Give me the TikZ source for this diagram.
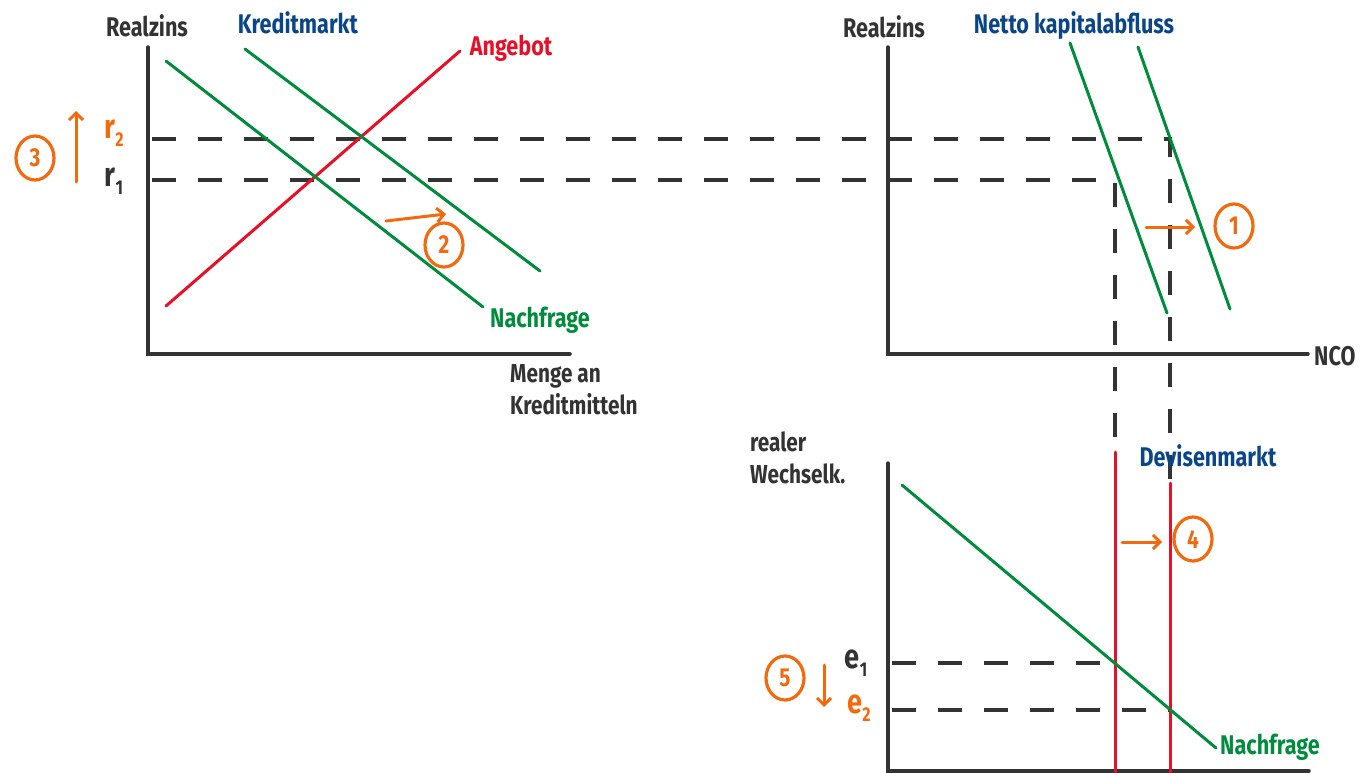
\documentclass[tikz,border=0pt]{standalone}
\usepackage{fontspec}
\newfontfamily\hand[FakeStretch=0.8]{Fira Sans}
\usetikzlibrary{arrows.meta,shapes.geometric}
\definecolor{ink}{RGB}{51,51,51}
\definecolor{grn}{RGB}{0,140,60}
\definecolor{rd}{RGB}{230,16,40}
\definecolor{blu}{RGB}{10,70,135}
\definecolor{org}{RGB}{242,106,16}
\begin{document}
\begin{tikzpicture}[x=1pt,y=-1pt,
  axis/.style={draw=ink,line width=3.5pt,line cap=round},
  dashline/.style={draw=ink,line width=3.2pt,dash pattern=on 24pt off 22pt},
  gcurve/.style={draw=grn,line width=3pt,line cap=round},
  rcurve/.style={draw=rd,line width=3pt,line cap=round},
  lbl/.style={font=\hand\bfseries\fontsize{27}{30}\selectfont,text=ink,inner sep=0pt},
  slbl/.style={font=\hand\bfseries\fontsize{26}{32}\selectfont,text=ink,inner sep=0pt,align=left},
  sym/.style={font=\hand\bfseries\fontsize{34}{34}\selectfont,text=ink,inner sep=0pt},
  num/.style={ellipse,draw=org,line width=3.2pt,minimum width=38pt,minimum height=44pt,inner sep=0pt,text=org,font=\hand\bfseries\fontsize{26}{26}\selectfont},
  oarrow/.style={draw=org,line width=3pt,line cap=round,-{Straight Barb[length=7pt,width=14pt,line width=3pt]}},
]
\useasboundingbox (0,0) rectangle (1360,773);

% ---------- coordinates ----------
% left panel (Kreditmarkt)
\coordinate (LO) at (148,354);
\coordinate (LT) at (148,47);
\coordinate (LX) at (570,354);
\coordinate (A1) at (166,306);
\coordinate (A2) at (460,51);
\coordinate (N1a) at (166,61);
\coordinate (N1b) at (483,307);
\coordinate (N2a) at (245,49);
\coordinate (N2b) at (540,271);
\coordinate (r2s) at (152,139);
\coordinate (r2e) at (1170,139);
\coordinate (r1s) at (152,180);
\coordinate (r1e) at (1115,180);
% right top panel (NCO)
\coordinate (RO) at (888,354);
\coordinate (RT) at (888,47);
\coordinate (RX) at (1308,354);
\coordinate (K1a) at (1070,43);
\coordinate (K1b) at (1167,313);
\coordinate (K2a) at (1138,47);
\coordinate (K2b) at (1230,309);
% bottom panel (Devisenmarkt)
\coordinate (DO) at (888,771);
\coordinate (DT) at (888,463);
\coordinate (DX) at (1309,771);
\coordinate (S1t) at (1115,452);
\coordinate (S1b) at (1115,773);
\coordinate (S2t) at (1170,483);
\coordinate (S2b) at (1170,773);
\coordinate (Da) at (902,485);
\coordinate (Db) at (1216,748);
\coordinate (e1s) at (892,663);
\coordinate (e1e) at (1115,663);
\coordinate (e2s) at (892,710);
\coordinate (e2e) at (1170,710);

% ---------- dashed guides ----------
\draw[dashline] (r2s) -- (r2e) -- (S2t);
\draw[dashline] (r1s) -- (r1e) -- (S1t);
\draw[dashline] (e1s) -- (e1e);
\draw[dashline] (e2s) -- (e2e);

% ---------- axes ----------
\draw[axis] (LT) -- (LO) -- (LX);
\draw[axis] (RT) -- (RO) -- (RX);
\draw[axis] (DT) -- (DO) -- (DX);

% ---------- curves ----------
\draw[rcurve] (A1) -- (A2);
\draw[gcurve] (N1a) -- (N1b);
\draw[gcurve] (N2a) -- (N2b);
\draw[gcurve] (K1a) -- (K1b);
\draw[gcurve] (K2a) -- (K2b);
\draw[rcurve] (S1t) -- (S1b);
\draw[rcurve] (S2t) -- (S2b);
\draw[gcurve] (Da) -- (Db);

% ---------- labels ----------
\node[lbl] (yl1) at (147,26) {Realzins};
\node[lbl,text=blu] (tkm) at (298,23) {Kreditmarkt};
\node[lbl,text=rd] (tang) at (511,48) {Angebot};
\node[lbl,text=grn] (tnf1) at (540,320) {Nachfrage};
\node[slbl,anchor=north west] (xl1) at (510,364) {Menge an\\Kreditmitteln};
\node[sym,text=org] (lr2) at (114,133) {r\raisebox{-8pt}{\fontsize{20}{20}\selectfont 2}};
\node[sym] (lr1) at (114,181) {r\raisebox{-8pt}{\fontsize{20}{20}\selectfont 1}};

\node[lbl] (yl2) at (884,27) {Realzins};
\node[lbl,text=blu] (tnk) at (1074,26) {Netto kapitalabfluss};
\node[lbl,anchor=west] (xl2) at (1314,356) {NCO};

\node[slbl,anchor=north west] (yl3) at (750,432) {realer\\Wechselk.};
\node[lbl,text=blu] (tdm) at (1208,456) {Devisenmarkt};
\node[lbl,text=grn] (tnf2) at (1270,747) {Nachfrage};
\node[sym] (le1) at (856,663) {e\raisebox{-8pt}{\fontsize{20}{20}\selectfont 1}};
\node[sym,text=org] (le2) at (859,708) {e\raisebox{-8pt}{\fontsize{20}{20}\selectfont 2}};

% ---------- orange annotations ----------
\node[num] (c3) at (35,158) {3};
\coordinate (u3a) at (76,182);
\coordinate (u3b) at (76,111);
\draw[oarrow] (u3a) -- (u3b);

\coordinate (s2a) at (386,221);
\coordinate (s2b) at (446,214);
\draw[oarrow] (s2a) -- (s2b);
\node[num] (c2) at (444,245) {2};

\coordinate (s1a) at (1146,227);
\coordinate (s1b) at (1195,227);
\draw[oarrow] (s1a) -- (s1b);
\node[num] (c1) at (1234,226) {1};

\coordinate (s4a) at (1122,542);
\coordinate (s4b) at (1162,542);
\draw[oarrow] (s4a) -- (s4b);
\node[num] (c4) at (1193,539) {4};

\node[num] (c5) at (785,678) {5};
\coordinate (d5a) at (824,665);
\coordinate (d5b) at (824,707);
\draw[oarrow] (d5a) -- (d5b);
\end{tikzpicture}
\end{document}
